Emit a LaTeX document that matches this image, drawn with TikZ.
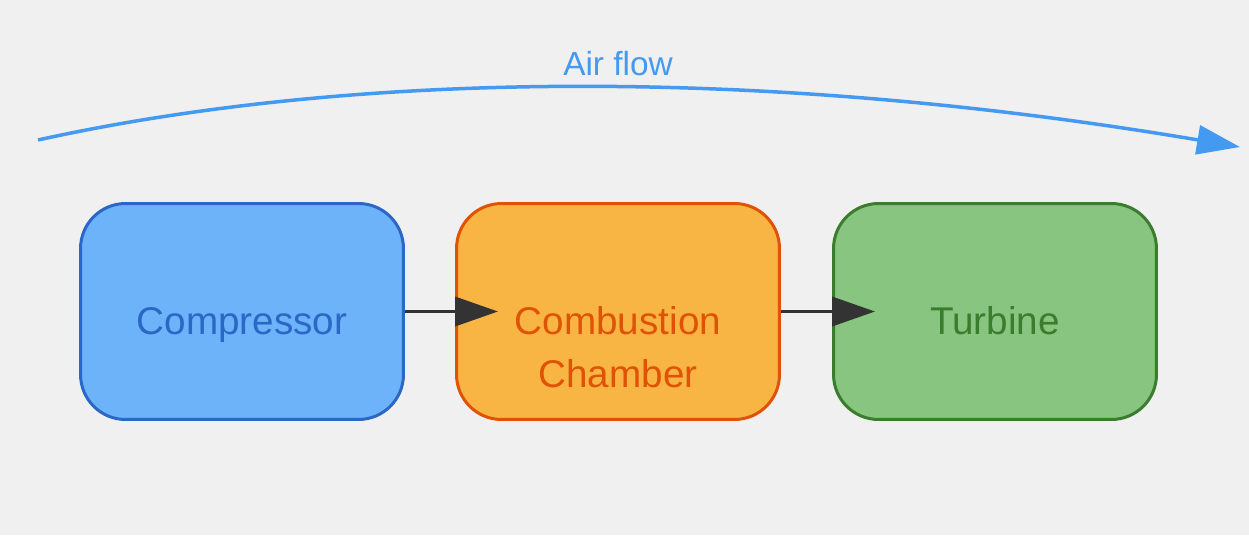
\documentclass[tikz,border=0pt]{standalone}
\usepackage{fontspec}
\setmainfont{Liberation Sans}
\usetikzlibrary{positioning, arrows.meta}

\definecolor{bg}{HTML}{F0F0F0}
\definecolor{cfill}{HTML}{6DB3F9}
\definecolor{cline}{HTML}{2B67C6}
\definecolor{bfill}{HTML}{F8B544}
\definecolor{bline}{HTML}{E05206}
\definecolor{tfill}{HTML}{88C580}
\definecolor{tline}{HTML}{3A7D2C}
\definecolor{air}{HTML}{4499F0}
\definecolor{link}{HTML}{333333}

\begin{document}
\begin{tikzpicture}[x=0.02cm, y=-0.02cm, >={Triangle[length=0.86cm, width=0.58cm]},
    unit/.style={draw, line width=0.06cm, rounded corners=0.9cm, minimum width=6.46cm, minimum height=4.32cm},
    unittext/.style={font=\fontsize{22}{22.6}\selectfont, align=center, inner sep=0pt}]
    \fill[bg] (0,0) rectangle (1249,535);
    \useasboundingbox (0,0) rectangle (1249,535);

    \node[unit, fill=cfill, draw=cline] (c) at (242,311.5) {};
    \node[unit, fill=bfill, draw=bline] (b) at (618,311.5) {};
    \node[unit, fill=tfill, draw=tline] (t) at (995,311.5) {};

    \node[unittext, text=cline, anchor=base] (cn) at (242,334) {Compressor};
    \node[unittext, text=bline, anchor=base] (bn) at (618,334) {Combustion};
    \node[unittext, text=bline, below=1.08cm of bn.base, anchor=base] (bm) {Chamber};
    \node[unittext, text=tline, anchor=base] (tn) at (995,334) {Turbine};

    \draw[->, link, line width=0.075cm] (c.east) -- ([xshift=0.86cm]b.west);
    \draw[->, link, line width=0.075cm] (b.east) -- ([xshift=0.86cm]t.west);

    % air flow
    \coordinate (a0) at (38,140);
    \coordinate (a1) at (1240,147);
    \draw[->, air, line width=0.07cm] (a0) .. controls (300,82) and (700,56) .. (a1);
    \node[text=air, font=\fontsize{19}{20}\selectfont, anchor=base] (af) at (618,75) {Air flow};
\end{tikzpicture}
\end{document}
